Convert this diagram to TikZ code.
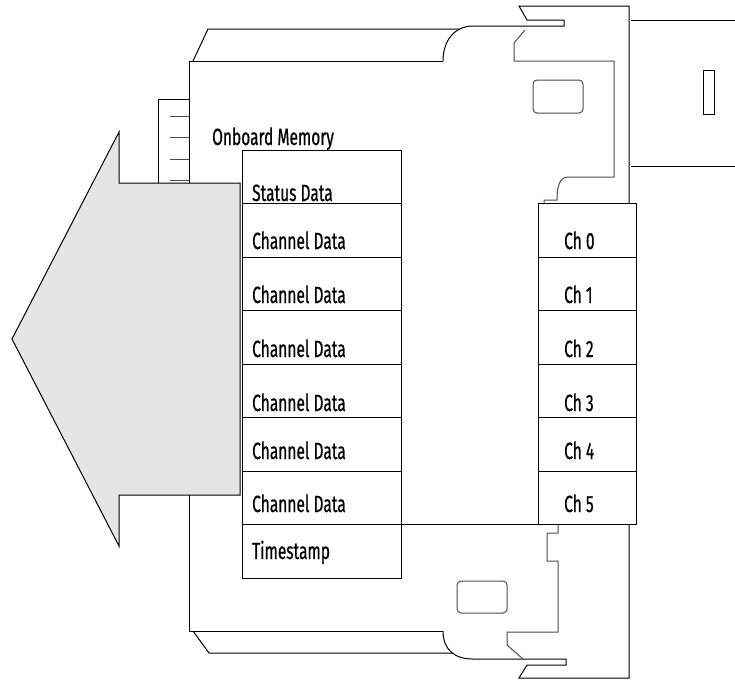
\documentclass[tikz,border=0pt]{standalone}
\usepackage{fontspec}
\setmainfont{Fira Sans}[FakeStretch=0.66, FakeBold=0.6]
\usetikzlibrary{positioning}

\begin{document}
\begin{tikzpicture}[x=1pt, y=-1pt,
  housing/.style={draw=black, line width=1pt},
  detail/.style={draw=black!70, line width=1pt},
  txt/.style={anchor=base west, inner sep=0pt, font=\fontsize{23.5}{26}\selectfont}]
  \useasboundingbox (0,0) rectangle (735,681);

  % Top lid
  \draw[housing] (193,61) -- (208,29) -- (460,29);
  \draw[housing] (443,61) .. controls (443,40) and (455,26) .. (473,26) -- (564,26) -- (564,20)
    -- (527,20) -- (519,6) -- (629,6) -- (629,203.5);

  % Housing body
  \draw[housing] (443,61) -- (189,61) -- (189,631) -- (443,631);

  % Bottom lid
  \draw[housing] (193,631) -- (209,653) -- (453,653);
  \draw[housing] (443,631) .. controls (443,650) and (455,659) .. (473,659) -- (566,659) -- (566,665)
    -- (527,665) -- (519,678) -- (629,678) -- (629,524.5);

  % Latch contours
  \draw[detail] (525,30) -- (514,43) -- (514,61) -- (614,61) -- (614,177) -- (568,177)
    .. controls (559,177) and (557,188) .. (557,200) -- (544,200) -- (544,203.5);
  \draw[detail] (558,524.5) -- (558,533) -- (547,533) -- (547,561) -- (558,561) -- (558,632)
    -- (507,632) -- (507,645) -- (523,659);
  \draw[detail, rounded corners=4pt] (533,80) rectangle (583,113);
  \draw[detail, rounded corners=4pt] (457,581) rectangle (507,613);

  % Neighbour module
  \draw[housing] (631,20) -- (735,20);
  \draw[housing] (631,166) -- (735,166);
  \draw[housing] (703,70) rectangle (714,114);

  % Backplane connector
  \draw[housing] (158,183) -- (158,99) -- (189,99);
  \foreach \y in {116,137,159,180} {
    \draw[detail] (170,\y) -- (189,\y);
  }

  % Data arrow
  \draw[housing, fill=black!10] (240,183) -- (119,183) -- (119,132) -- (12,339) -- (119,546)
    -- (119,495) -- (240,495) -- cycle;

  % Onboard memory
  \draw[housing] (242,150) rectangle (401,578);
  \foreach \k in {1,...,7} {
    \draw[housing] (242,{150+53.5*\k}) -- (401,{150+53.5*\k});
  }

  % Channels
  \draw[housing] (538,203.5) rectangle (636,524.5);
  \foreach \k in {2,...,6} {
    \draw[housing] (538,{150+53.5*\k}) -- (636,{150+53.5*\k});
  }
  \draw[housing] (401,524.5) -- (538,524.5);

  % Labels
  \node[txt] (onboard) at (212,145) {Onboard Memory};
  \node[txt] (status) at (252,201) {Status Data};
  \foreach \i/\y in {0/249,1/303,2/357,3/411,4/459,5/512} {
    \node[txt] (data\i) at (252,\y) {Channel Data};
    \node[txt] (ch\i) at (564,\y) {Ch \i};
  }
  \node[txt] (timestamp) at (252,559) {Timestamp};
\end{tikzpicture}
\end{document}
